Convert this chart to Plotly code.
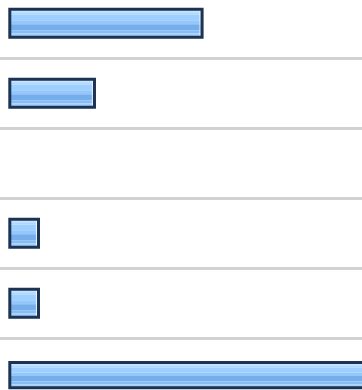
import plotly.graph_objects as go

# Row positions (top to bottom) and bar lengths
rows = [0, 1, 2, 3, 4, 5]
values = [67, 29.5, None, 10, 10, 128]

# Styling
BAR_PX = 28.0          # bar thickness in pixels
PX = 1 / 70.0          # one pixel in row units
UNIT_PX = 2.87         # pixels per value unit on x
BORDER = "#1d3354"
GRID = "#d2d2d2"

# per-row thickness factor and vertical nudge (px); the last bar sits
# slightly lower and thinner against the bottom edge
thick = [1, 1, 1, 1, 1, 0.9]
nudge = [0, 0, 0, 0, 0, 2.0]

# Horizontal gradient bands across the bar thickness: (top px, bottom px, colour),
# measured from the bar centre for a 28 px bar
bands = [
    (-14.0, -11.0, "#c6e3ff"),
    (-11.0, -8.5, "#aed8ff"),
    (-8.5, -3.0, "#9ecfff"),
    (-3.0, 1.0, "#94c8fc"),
    (1.0, 7.0, "#76adeb"),
    (7.0, 10.0, "#86bdf5"),
    (10.0, 14.0, "#a2cffc"),
]

fig = go.Figure()

for top, bottom, colour in bands:
    fig.add_trace(go.Bar(
        y=rows, x=values, orientation="h",
        width=[(bottom - top) * k * PX for k in thick],
        offset=[(n + top * k) * PX for k, n in zip(thick, nudge)],
        marker=dict(color=colour, line=dict(width=0)),
        hoverinfo="skip",
    ))

# thin white highlight just inside the right end of each bar
hl_base = [None if v is None else v - 2.6 / UNIT_PX for v in values]
hl_len = [None if v is None else 1.0 / UNIT_PX for v in values]
fig.add_trace(go.Bar(
    y=rows, x=hl_len, base=hl_base, orientation="h",
    width=[(BAR_PX * k - 3) * PX for k in thick],
    offset=[(n - (BAR_PX * k - 3) / 2) * PX for k, n in zip(thick, nudge)],
    marker=dict(color="rgba(255,255,255,0.85)", line=dict(width=0)),
    hoverinfo="skip",
))

# dark outline on top
fig.add_trace(go.Bar(
    y=rows, x=values, orientation="h",
    width=[BAR_PX * k * PX for k in thick],
    offset=[(n - BAR_PX * k / 2) * PX for k, n in zip(thick, nudge)],
    marker=dict(color="rgba(0,0,0,0)", line=dict(color=BORDER, width=3)),
    hovertemplate="%{x}<extra></extra>",
))

x_left = -9.8 / UNIT_PX
x_right = (362 - 9.8) / UNIT_PX
y_top = -23.2 / 70
y_bottom = (390 - 23.2) / 70

fig.update_layout(
    width=362, height=390,
    margin=dict(l=0, r=0, t=0, b=0),
    paper_bgcolor="white", plot_bgcolor="white",
    barmode="overlay", showlegend=False,
    xaxis=dict(range=[x_left, x_right], showgrid=False, zeroline=False,
               showticklabels=False, ticks="", showline=False),
    yaxis=dict(range=[y_bottom, y_top], tickvals=[0.5, 1.5, 2.5, 3.5, 4.5],
               showgrid=True, gridcolor=GRID, gridwidth=2.5, zeroline=False,
               showticklabels=False, ticks="", showline=False),
)

fig.write_html("out.html", config={"displayModeBar": False})
